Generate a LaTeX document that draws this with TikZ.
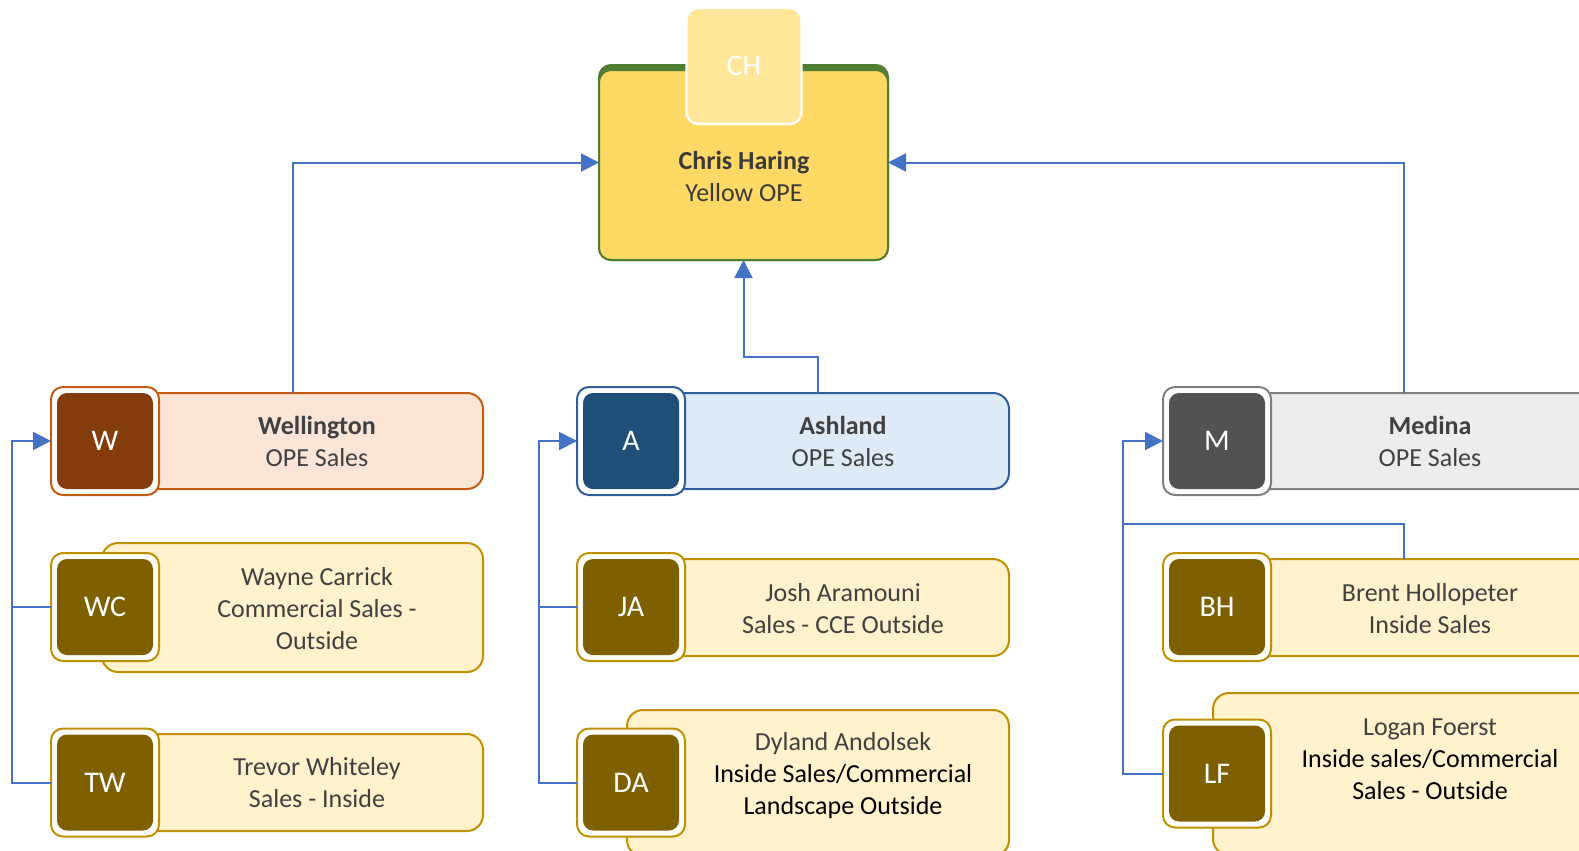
\documentclass[tikz,border=0pt]{standalone}
\usepackage{fontspec}
\setmainfont{Carlito}
\usetikzlibrary{arrows.meta}
\definecolor{connC}{HTML}{4472C4}
\definecolor{txtC}{HTML}{404040}
\definecolor{mainF}{HTML}{FFD966}
\definecolor{mainD}{HTML}{507E32}
\definecolor{chF}{HTML}{FFE699}
\definecolor{wBadge}{HTML}{843C0C}
\definecolor{wLine}{HTML}{C55A11}
\definecolor{wBody}{HTML}{FBE5D6}
\definecolor{aBadge}{HTML}{1F4E79}
\definecolor{aLine}{HTML}{2E5E9A}
\definecolor{aBody}{HTML}{DEEBF7}
\definecolor{mBadge}{HTML}{525252}
\definecolor{mLine}{HTML}{7F7F7F}
\definecolor{mBody}{HTML}{EDEDED}
\definecolor{sBadge}{HTML}{7F6000}
\definecolor{sLine}{HTML}{BF9000}
\definecolor{sBody}{HTML}{FFF2CC}
\begin{document}
\begin{tikzpicture}[x=0.5pt,y=-0.5pt,
  sz/.style 2 args={minimum width=#1*0.5pt,minimum height=#2*0.5pt},
  shp/.style={rectangle,inner sep=0pt,outer sep=0pt,line width=1pt},
  body/.style={shp,rounded corners=8pt},
  badge/.style={shp,rounded corners=6pt,fill=white,sz={108}{108}},
  inner/.style={shp,rounded corners=5pt,sz={96}{96},text=white,font=\fontsize{15}{18}\selectfont},
  lbl/.style={align=center,text=txtC,font=\fontsize{13}{16}\selectfont,inner sep=0pt},
  conn/.style={draw=connC,line width=1pt},
  arr/.style={conn,-{Triangle[length=9pt,width=9pt]}}
]
\useasboundingbox (0,0) rectangle (1579,851);
\clip (0,0) rectangle (1579,851);

% top box
\node[body,rounded corners=6pt,fill=mainD,draw=mainD,sz={289}{195}] (chris) at (743.5,162.5) {};
\draw[line width=1pt,draw=mainD,fill=mainF,rounded corners=6pt] (599,70) rectangle (888,260);
\node[shp,rounded corners=6pt,fill=chF,draw=white,line width=1.2pt,sz={115}{116},text=white,font=\fontsize{15}{18}\selectfont] (CH) at (744,66) {CH};
\node[lbl,text=txtC!90!black] (tCH) at (744,176) {\textbf{Chris Haring}\\Yellow OPE};

% bodies
\node[body,fill=wBody,draw=wLine,sz={381}{96}] (bW) at (292.5,441) {};
\node[body,fill=sBody,draw=sLine,sz={381}{129}] (bWC) at (292.5,607.5) {};
\node[body,fill=sBody,draw=sLine,sz={381}{97}] (bTW) at (292.5,782.5) {};
\node[body,fill=aBody,draw=aLine,sz={382}{96}] (bA) at (818,441) {};
\node[body,fill=sBody,draw=sLine,sz={382}{97}] (bJA) at (818,607.5) {};
\node[body,fill=sBody,draw=sLine,sz={382}{146}] (bDA) at (818,783) {};
\node[body,fill=mBody,draw=mLine,sz={382}{96}] (bM) at (1404,441) {};
\node[body,fill=sBody,draw=sLine,sz={382}{97}] (bBH) at (1404,607.5) {};
\node[body,fill=sBody,draw=sLine,sz={382}{162}] (bLF) at (1404,774) {};

% badges
\node[badge,draw=wLine] (W) at (105,441) {};
\node[inner,fill=wBadge] (Wi) at (105,441) {W};
\node[badge,draw=sLine] (WC) at (105,607) {};
\node[inner,fill=sBadge] (WCi) at (105,607) {WC};
\node[badge,draw=sLine] (TW) at (105,782.5) {};
\node[inner,fill=sBadge] (TWi) at (105,782.5) {TW};
\node[badge,draw=aLine] (A) at (631,441) {};
\node[inner,fill=aBadge] (Ai) at (631,441) {A};
\node[badge,draw=sLine] (JA) at (631,607) {};
\node[inner,fill=sBadge] (JAi) at (631,607) {JA};
\node[badge,draw=sLine] (DA) at (631,782.5) {};
\node[inner,fill=sBadge] (DAi) at (631,782.5) {DA};
\node[badge,draw=mLine] (M) at (1217,441) {};
\node[inner,fill=mBadge] (Mi) at (1217,441) {M};
\node[badge,draw=sLine] (BH) at (1217,607) {};
\node[inner,fill=sBadge] (BHi) at (1217,607) {BH};
\node[badge,draw=sLine] (LF) at (1217,773.5) {};
\node[inner,fill=sBadge] (LFi) at (1217,773.5) {LF};

% labels
\node[lbl] (tW) at (317,441) {\textbf{Wellington}\\OPE Sales};
\node[lbl] (tWC) at (317,609) {Wayne Carrick\\Commercial Sales -\\Outside};
\node[lbl] (tTW) at (317,783) {Trevor Whiteley\\Sales - Inside};
\node[lbl] (tA) at (843,441) {\textbf{Ashland}\\OPE Sales};
\node[lbl] (tJA) at (843,609) {Josh Aramouni\\Sales - CCE Outside};
\node[lbl] (tDA) at (843,776) {Dyland Andolsek\\\textcolor{black}{Inside Sales/Commercial}\\\textcolor{black}{Landscape Outside}};
\node[lbl] (tM) at (1430,441) {\textbf{Medina}\\OPE Sales};
\node[lbl] (tBH) at (1430,609) {Brent Hollopeter\\Inside Sales};
\node[lbl] (tLF) at (1430,759) {Logan Foerst\\\textcolor{black}{Inside sales/Commercial}\\\textcolor{black}{Sales - Outside}};

% connectors
\draw[arr] (bW.north) |- (chris.west);
\draw[arr] (bM.north) |- (chris.east);
\draw[arr] (bA.north) -- ++(0,-36) -| (chris.south);

\draw[arr] (TW.west) -- ++(-39,0) |- (W.west);
\coordinate (jL) at (12,607);
\draw[conn] (WC.west) -- (jL);

\draw[arr] (DA.west) -- ++(-38,0) |- (A.west);
\coordinate (jM) at (539,607);
\draw[conn] (JA.west) -- (jM);

\draw[arr] (LF.west) -- ++(-40,0) |- (M.west);
\coordinate (jR) at (1123,524);
\draw[conn] (bBH.north) |- (jR);
\end{tikzpicture}
\end{document}
